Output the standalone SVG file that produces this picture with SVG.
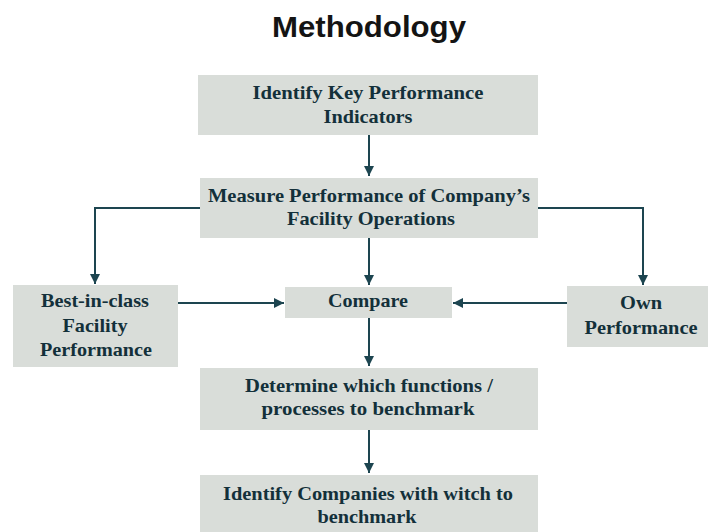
<svg xmlns="http://www.w3.org/2000/svg" width="708" height="532" viewBox="0 0 708 532">
  <style>
    .box { fill: #d9ddd9; }
    .lbl { font-family: "Liberation Serif", "Times New Roman", serif; font-weight: bold; font-size: 19px; fill: #13303a; text-anchor: middle; }
    .title { font-family: "Liberation Sans", Arial, sans-serif; font-weight: bold; font-size: 29px; fill: #141414; text-anchor: middle; }
    .edge { fill: none; stroke: #1d4550; stroke-width: 2; }
  </style>
  <defs>
    <marker id="arrow" viewBox="0 0 10 10" refX="10" refY="5" markerWidth="5" markerHeight="5" orient="auto" markerUnits="strokeWidth">
      <path d="M0,0 L10,5 L0,10 z" fill="#1d4550"/>
    </marker>
  </defs>

  <rect width="708" height="532" fill="#ffffff"/>

  <text class="title" x="369" y="37" textLength="194" lengthAdjust="spacingAndGlyphs">Methodology</text>

  <g id="kpi">
    <rect class="box" x="198" y="75" width="340" height="60"/>
    <text class="lbl" x="368" y="99" textLength="231" lengthAdjust="spacingAndGlyphs">Identify Key Performance</text>
    <text class="lbl" x="368" y="123" textLength="89" lengthAdjust="spacingAndGlyphs">Indicators</text>
  </g>

  <g id="measure">
    <rect class="box" x="200" y="178" width="338" height="60"/>
    <text class="lbl" x="369" y="202" textLength="322" lengthAdjust="spacingAndGlyphs">Measure Performance of Company’s</text>
    <text class="lbl" x="371" y="225" textLength="168" lengthAdjust="spacingAndGlyphs">Facility Operations</text>
  </g>

  <g id="best">
    <rect class="box" x="13" y="285" width="165" height="82"/>
    <text class="lbl" x="95" y="307" textLength="108" lengthAdjust="spacingAndGlyphs">Best-in-class</text>
    <text class="lbl" x="95" y="332" textLength="65" lengthAdjust="spacingAndGlyphs">Facility</text>
    <text class="lbl" x="96" y="356" textLength="112" lengthAdjust="spacingAndGlyphs">Performance</text>
  </g>

  <g id="compare">
    <rect class="box" x="285" y="287" width="167" height="31"/>
    <text class="lbl" x="368" y="307" textLength="80" lengthAdjust="spacingAndGlyphs">Compare</text>
  </g>

  <g id="own">
    <rect class="box" x="567" y="286" width="141" height="61"/>
    <text class="lbl" x="641" y="309" textLength="42" lengthAdjust="spacingAndGlyphs">Own</text>
    <text class="lbl" x="641" y="334" textLength="113" lengthAdjust="spacingAndGlyphs">Performance</text>
  </g>

  <g id="determine">
    <rect class="box" x="200" y="368" width="338" height="62"/>
    <text class="lbl" x="369" y="392" textLength="248" lengthAdjust="spacingAndGlyphs">Determine which functions /</text>
    <text class="lbl" x="368" y="415" textLength="213" lengthAdjust="spacingAndGlyphs">processes to benchmark</text>
  </g>

  <g id="identify">
    <rect class="box" x="200" y="475" width="338" height="57"/>
    <text class="lbl" x="368" y="500" textLength="290" lengthAdjust="spacingAndGlyphs">Identify Companies with witch to</text>
    <text class="lbl" x="367" y="523" textLength="99" lengthAdjust="spacingAndGlyphs">benchmark</text>
  </g>

  <g id="connectors">
    <path class="edge" d="M369,135 V176" marker-end="url(#arrow)"/>
    <path class="edge" d="M200,208 H95 V284" marker-end="url(#arrow)"/>
    <path class="edge" d="M538,208 H643 V285" marker-end="url(#arrow)"/>
    <path class="edge" d="M369,238 V285" marker-end="url(#arrow)"/>
    <path class="edge" d="M178,303 H284" marker-end="url(#arrow)"/>
    <path class="edge" d="M567,303 H453" marker-end="url(#arrow)"/>
    <path class="edge" d="M369,318 V366" marker-end="url(#arrow)"/>
    <path class="edge" d="M369,430 V473" marker-end="url(#arrow)"/>
  </g>
</svg>
